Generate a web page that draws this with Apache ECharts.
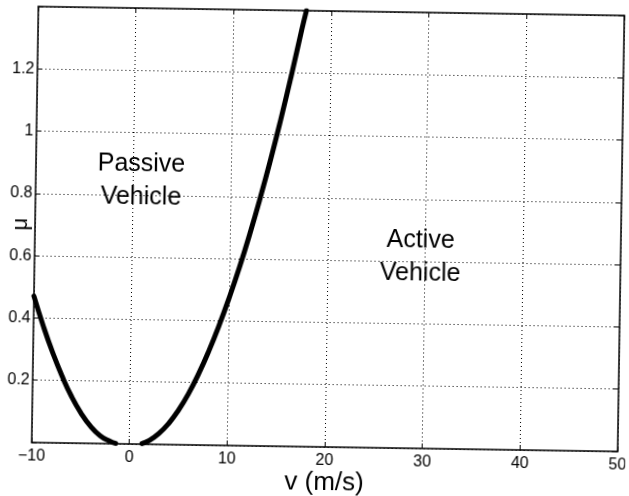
<!DOCTYPE html>
<html>
<head>
<meta charset="utf-8">
<script src="https://cdn.jsdelivr.net/npm/echarts@6/dist/echarts.min.js"></script>
<style>
html,body{margin:0;padding:0;background:#fff;overflow:hidden;}
#chart{width:629px;height:496px;transform:rotate(0.88deg);transform-origin:328px 229px;}
</style>
</head>
<body>
<div id="chart"></div>
<script>
// Data
var xTicks = [-10, 0, 10, 20, 30, 40, 50];
var yTickLabels = ['', '0.2', '0.4', '0.6', '0.8', '1', '1.2', ''];
var leftV  = [-10, -9, -8, -7, -6, -5, -4, -3, -2, -1.4];
var leftMu = [0.47, 0.375, 0.29, 0.215, 0.15, 0.097, 0.055, 0.025, 0.008, 0.001];
var rightV  = [1.3, 2, 3, 4, 5, 6, 7, 8, 9, 10, 11, 12, 13, 14, 15, 16, 17, 17.45];
var rightMu = [0.002, 0.012, 0.035, 0.068, 0.112, 0.166, 0.23, 0.303, 0.385, 0.475, 0.573, 0.68, 0.795, 0.918, 1.05, 1.19, 1.338, 1.4];
var noteNames = ['Passive\nVehicle', 'Active\nVehicle'];
var noteV = [0.8, 29.5];
var noteMu = [0.845, 0.613];

function pairs(xs, ys){ return xs.map(function(x,i){ return [x, ys[i]]; }); }

var FONT = '"Liberation Sans", Arial, sans-serif';
var chart = echarts.init(document.getElementById('chart'), null, {renderer:'canvas'});
var axisCommon = {
  axisLine:{show:true, onZero:false, lineStyle:{color:'#000', width:1.5}},
  axisTick:{show:true, inside:true, length:5, lineStyle:{color:'#000', width:1}}
};
chart.setOption({
  animation:false,
  backgroundColor:'#fff',
  grid:{left:35, right:8, top:11, bottom:49, containLabel:false, outerBoundsMode:'none'},
  xAxis:[
    Object.assign({
      type:'value', min:-10, max:50, interval:10,
      name:'v (m/s)', nameLocation:'middle', nameGap:23, nameMoveOverlap:false,
      nameTextStyle:{fontFamily:FONT, fontSize:26, color:'#000'},
      axisLabel:{fontFamily:FONT, fontSize:16, color:'#000', margin:6,
        formatter:function(v){ return xTicks.indexOf(v) >= 0 ? String(v).replace('-', '\u2212') : ''; }},
      splitLine:{show:true, lineStyle:{color:'#000', width:1, type:[1,3]}}
    }, axisCommon),
    Object.assign({
      type:'value', min:-10, max:50, interval:10, position:'top',
      axisLabel:{show:false}, splitLine:{show:false}
    }, axisCommon)
  ],
  yAxis:[
    Object.assign({
      type:'value', min:0, max:1.4, interval:0.2,
      name:'\u03bc', nameLocation:'middle', nameGap:3, nameRotate:90, nameMoveOverlap:false,
      nameTextStyle:{fontFamily:FONT, fontSize:22, color:'#000'},
      axisLabel:{fontFamily:FONT, fontSize:16, color:'#000', margin:3,
        formatter:function(v){ return yTickLabels[Math.round(v/0.2)] || ''; }},
      splitLine:{show:true, lineStyle:{color:'#000', width:1, type:[1,3]}}
    }, axisCommon),
    Object.assign({
      type:'value', min:0, max:1.4, interval:0.2, position:'right',
      axisLabel:{show:false}, splitLine:{show:false}
    }, axisCommon)
  ],
  series:[
    {type:'line', data:pairs(leftV, leftMu), smooth:true, showSymbol:false,
     lineStyle:{color:'#000', width:5, cap:'round'}},
    {type:'line', data:pairs(rightV, rightMu), smooth:true, showSymbol:false,
     lineStyle:{color:'#000', width:5, cap:'round'}},
    {type:'scatter', symbolSize:0, silent:true, itemStyle:{color:'#000', opacity:1},
     data:noteNames.map(function(n,i){ return {value:[noteV[i], noteMu[i]], name:n}; }),
     label:{show:true, position:'inside', formatter:function(p){ return p.name; },
       fontFamily:FONT, fontSize:25, lineHeight:33, color:'#000', opacity:1,
       textBorderWidth:0, align:'center'}}
  ]
});
</script>
</body>
</html>
